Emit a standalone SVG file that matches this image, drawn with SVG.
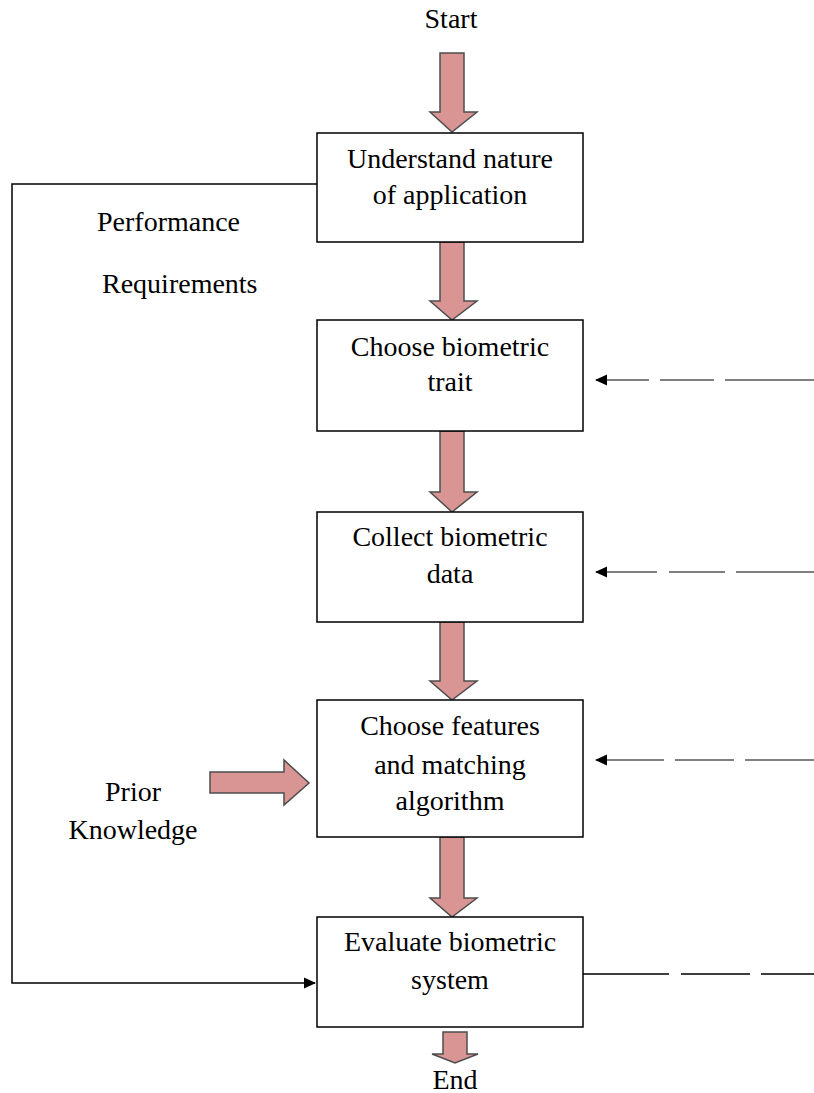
<svg xmlns="http://www.w3.org/2000/svg" width="814" height="1093" viewBox="0 0 814 1093">
<style>
text{font-family:"Liberation Serif","Times New Roman",serif;font-size:28px;fill:#000}
.c{text-anchor:middle}
.box{fill:#fff;stroke:#000;stroke-width:1.5}
.big{fill:#d99594;stroke:#4d4d4d;stroke-width:1.5;stroke-linejoin:miter}
.dash{fill:none;stroke:#7f7f7f;stroke-width:2.2}
.line{fill:none;stroke:#000;stroke-width:1.5}
</style>
<defs>
<marker id="ah" markerWidth="12" markerHeight="12" refX="11" refY="6" orient="auto" markerUnits="userSpaceOnUse">
<path d="M0,0.5 L12,6 L0,11.5 Z" fill="#000"/>
</marker>
</defs>
<g id="connectors">
<path class="big" d="M440,53 H464 V112 H477 L452,132 L430,112 H440 Z"/>
<path class="big" d="M440,242 H464 V301 H477 L452,320 L430,301 H440 Z"/>
<path class="big" d="M440,431 H464 V492 H477 L452,512 L430,492 H440 Z"/>
<path class="big" d="M440,622 H464 V681 H477 L452,700 L430,681 H440 Z"/>
<path class="big" d="M440,837 H464 V898 H477 L452,917 L430,898 H440 Z"/>
<path class="big" d="M443,1032 H467 V1054 H478 L455,1063 L432,1054 H443 Z"/>
<path class="big" d="M210,772 H284 V760 L309,783 L284,805 V793 H210 Z"/>
<path class="line" d="M317,184 H12 V983 H315" marker-end="url(#ah)"/>
<path class="dash" d="M814,380 H596" style="stroke-dasharray:89 11 54 11 54 0" marker-end="url(#ah)"/>
<path class="dash" d="M814,572 H596" style="stroke-dasharray:78 11 56 12 61 0" marker-end="url(#ah)"/>
<path class="dash" d="M814,760 H596" style="stroke-dasharray:69 11 59 11 69 0" marker-end="url(#ah)"/>
<path class="line" d="M583,974 H669 M681,974 H750 M761,974 H814"/>
</g>
<g id="start"><text class="c" x="451" y="28">Start</text></g>
<g id="n1"><rect class="box" x="317" y="133" width="266" height="109"/>
<text class="c" x="450" y="168">Understand nature</text><text class="c" x="450" y="204">of application</text></g>
<g id="n2"><rect class="box" x="317" y="320" width="266" height="111"/>
<text class="c" x="450" y="356">Choose biometric</text><text class="c" x="450" y="391">trait</text></g>
<g id="n3"><rect class="box" x="317" y="512" width="266" height="110"/>
<text class="c" x="450" y="546">Collect biometric</text><text class="c" x="450" y="583">data</text></g>
<g id="n4"><rect class="box" x="317" y="700" width="266" height="137"/>
<text class="c" x="450" y="735">Choose features</text><text class="c" x="450" y="774">and matching</text><text class="c" x="450" y="810">algorithm</text></g>
<g id="n5"><rect class="box" x="317" y="917" width="266" height="110"/>
<text class="c" x="450" y="951">Evaluate biometric</text><text class="c" x="450" y="989">system</text></g>
<g id="end"><text class="c" x="455" y="1089">End</text></g>
<g id="perf"><text x="97" y="231">Performance</text><text x="102" y="293">Requirements</text></g>
<g id="prior"><text class="c" x="133" y="801">Prior</text><text class="c" x="133" y="839">Knowledge</text></g>
</svg>
